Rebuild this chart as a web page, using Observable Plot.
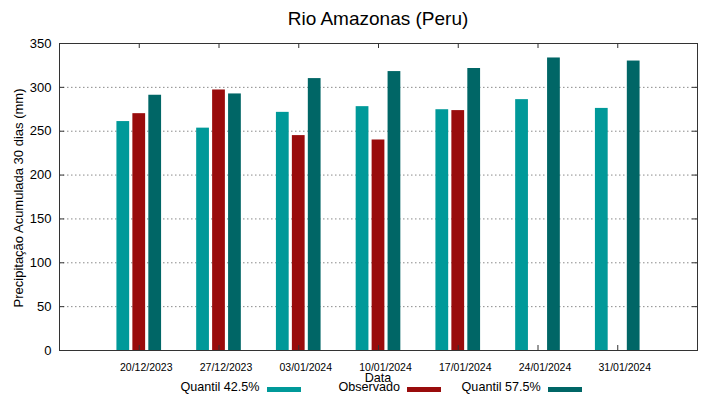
<!DOCTYPE html>
<html>
<head>
<meta charset="utf-8">
<script src="https://cdn.jsdelivr.net/npm/d3@7"></script>
<script src="https://cdn.jsdelivr.net/npm/@observablehq/plot@0.6"></script>
<style>
  html, body { margin: 0; padding: 0; background: #fff; }
  #wrap { position: relative; width: 719px; height: 399px; overflow: hidden; font-family: "Liberation Sans", Arial, sans-serif; color: #000; }
  #wrap svg { position: absolute; left: 0; top: 0; }
  .t { position: absolute; white-space: nowrap; line-height: 1; }
  .sw { position: absolute; height: 5px; }
</style>
</head>
<body>
<div id="wrap"></div>
<script>
// ---- data ----
const dates = ["20/12/2023", "27/12/2023", "03/01/2024", "10/01/2024", "17/01/2024", "24/01/2024", "31/01/2024"];
const quantil425 = [261, 253.5, 271.5, 278, 274.5, 286, 276];
const observado = [270, 297, 245, 240, 273.5, null, null];
const quantil575 = [291, 292.5, 310, 318, 321.5, 333.5, 330];
const seriesNames = ["Quantil 42.5%", "Observado", "Quantil 57.5%"];
const seriesColors = ["#009999", "#990c0c", "#006666"];
const yTicks = [0, 50, 100, 150, 200, 250, 300, 350];
const gridValues = [50, 100, 150, 200, 250, 300];

const title = "Rio Amazonas (Peru)";
const yLabel = "Precipitação Acumulada 30 dias (mm)";
const xLabel = "Data";

// ---- layout ----
const W = 719, H = 399;
const mT = 43, mR = 22, mB = 49, mL = 59;
const innerW = W - mL - mR, innerH = H - mT - mB;
const offsets = [-0.2, 0, 0.2];
const barW = 0.16;

const seriesValues = [quantil425, observado, quantil575];
const rows = [];
seriesValues.forEach((vals, s) => {
  vals.forEach((v, i) => {
    if (v != null) rows.push({i, series: seriesNames[s], s, value: v});
  });
});

const chart = Plot.plot({
  width: W, height: H,
  marginTop: mT, marginRight: mR, marginBottom: mB, marginLeft: mL,
  style: {fontFamily: "'Liberation Sans', Arial, sans-serif", background: "white", color: "#000"},
  x: {domain: [-1, dates.length]},
  y: {domain: [0, 350]},
  color: {domain: seriesNames, range: seriesColors},
  marks: [
    Plot.ruleY(gridValues, {y: d => d, stroke: "#8a8a8a", strokeWidth: 1, strokeDasharray: "1.5,2.5"}),
    Plot.rectY(rows, {
      x1: d => d.i + offsets[d.s] - barW / 2,
      x2: d => d.i + offsets[d.s] + barW / 2,
      y1: 0, y2: "value", fill: "series"
    }),
    Plot.frame({stroke: "#333", strokeWidth: 1}),
    Plot.tickY(yTicks, {y: d => d, insetRight: innerW - 5, stroke: "#333"}),
    Plot.tickY(yTicks, {y: d => d, insetLeft: innerW - 5, stroke: "#333"}),
    Plot.tickX(d3.range(dates.length), {x: d => d, insetBottom: innerH - 5, stroke: "#333"}),
    Plot.tickX(d3.range(dates.length), {x: d => d, insetTop: innerH - 5, stroke: "#333"}),
    Plot.axisY(yTicks, {tickSize: 0, tickPadding: 8, fontSize: 13, label: null}),
    Plot.axisX(d3.range(dates.length), {tickSize: 0, tickPadding: 13, fontSize: 10.5, dx: 7, tickFormat: i => dates[i], label: null})
  ]
});

const wrap = document.getElementById("wrap");
wrap.appendChild(chart);

// text helper: baseline-positioned
function addText(txt, x, baseline, size, anchor) {
  const d = document.createElement("div");
  d.className = "t";
  d.textContent = txt;
  d.style.fontSize = size + "px";
  d.style.top = (baseline - 0.8465 * size) + "px";
  if (anchor === "middle") { d.style.left = x + "px"; d.style.transform = "translateX(-50%)"; }
  else if (anchor === "end") { d.style.right = (W - x) + "px"; }
  else d.style.left = x + "px";
  wrap.appendChild(d);
  return d;
}

addText(title, 378, 25, 19, "middle");
addText(xLabel, 378, 383, 12.6, "middle");

// y label (rotated)
const yl = document.createElement("div");
yl.className = "t";
yl.textContent = yLabel;
yl.style.fontSize = "13px";
yl.style.left = "18px";
yl.style.top = "198px";
yl.style.transform = "translate(-50%, -50%) rotate(-90deg)";
wrap.appendChild(yl);

// legend
const legendRight = [259.5, 400, 540.7];
seriesNames.forEach((name, k) => {
  addText(name, legendRight[k], 392, 12.6, "end");
  const sw = document.createElement("div");
  sw.className = "sw";
  sw.style.left = (legendRight[k] + 7) + "px";
  sw.style.width = "34px";
  sw.style.top = "386.5px";
  sw.style.background = seriesColors[k];
  wrap.appendChild(sw);
});
</script>
</body>
</html>
